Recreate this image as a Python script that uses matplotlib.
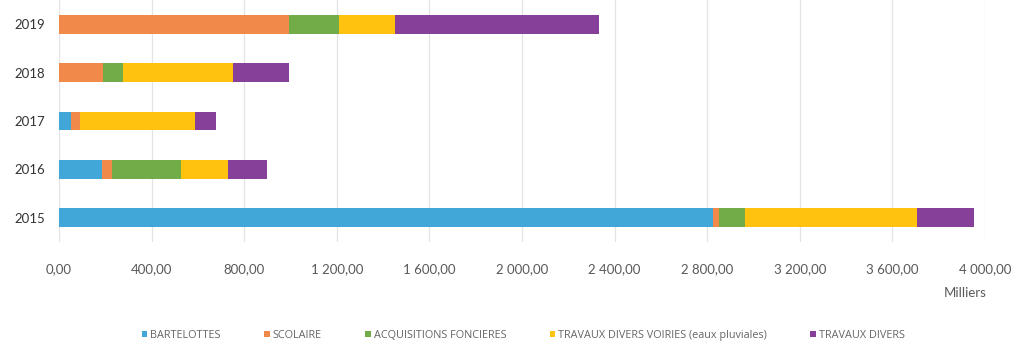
import matplotlib.pyplot as plt
from matplotlib.ticker import FuncFormatter

plt.rcParams['font.family'] = ['Lato', 'DejaVu Sans']

annees = ['2015', '2016', '2017', '2018', '2019']

# montants en milliers, par poste
bartelottes = [2823, 185, 51, 0, 0]
scolaire = [29, 46, 38, 188, 995]
acquisitions = [113, 295, 0, 89, 216]
voiries = [742, 202, 497, 475, 239]
divers = [246, 170, 91, 242, 883]

postes = ['BARTELOTTES', 'SCOLAIRE', 'ACQUISITIONS FONCIERES',
          'TRAVAUX DIVERS VOIRIES (eaux pluviales)', 'TRAVAUX DIVERS']
series = [bartelottes, scolaire, acquisitions, voiries, divers]
couleurs = ['#41a7d9', '#f0894a', '#72ac48', '#ffc20e', '#86409a']


def fr(x, pos):
    s = '{:,.2f}'.format(x)
    return s.replace(',', ' ').replace('.', ',')


fig = plt.figure(figsize=(10.14, 3.45), dpi=100)
ax = fig.add_axes([0.0582, 0.2986, 0.9132, 0.7014])

y = range(len(annees))
gauche = [0] * len(annees)
for nom, vals, c in zip(postes, series, couleurs):
    ax.barh(y, vals, left=gauche, height=0.39, color=c, label=nom)
    gauche = [g + v for g, v in zip(gauche, vals)]

ax.set_xlim(0, 4000)
ax.set_ylim(-0.5, 4.5)
ax.set_xticks(range(0, 4001, 400))
ax.xaxis.set_major_formatter(FuncFormatter(fr))
ax.set_yticks(list(y))
ax.set_yticklabels(annees)
ax.grid(axis='x', color='#e3e3e3', linewidth=0.9)
ax.set_axisbelow(True)
for sp in ax.spines.values():
    sp.set_visible(False)
ax.tick_params(axis='x', length=0, pad=15, labelsize=9.5, labelcolor='#595959')
ax.tick_params(axis='y', length=0, pad=10, labelsize=9.5, labelcolor='#333333')

fig.text(0.952, 0.14, 'Milliers', fontsize=9.5, color='#595959', ha='center')

fig.legend(loc='center', bbox_to_anchor=(0.516, 0.028), ncol=5, frameon=False,
           prop={'family': 'Open Sans', 'size': 7.8}, labelcolor='#666666',
           handlelength=0.55, handleheight=0.55, handletextpad=0.25,
           columnspacing=4.0)

fig.savefig('out.png', dpi=100)
